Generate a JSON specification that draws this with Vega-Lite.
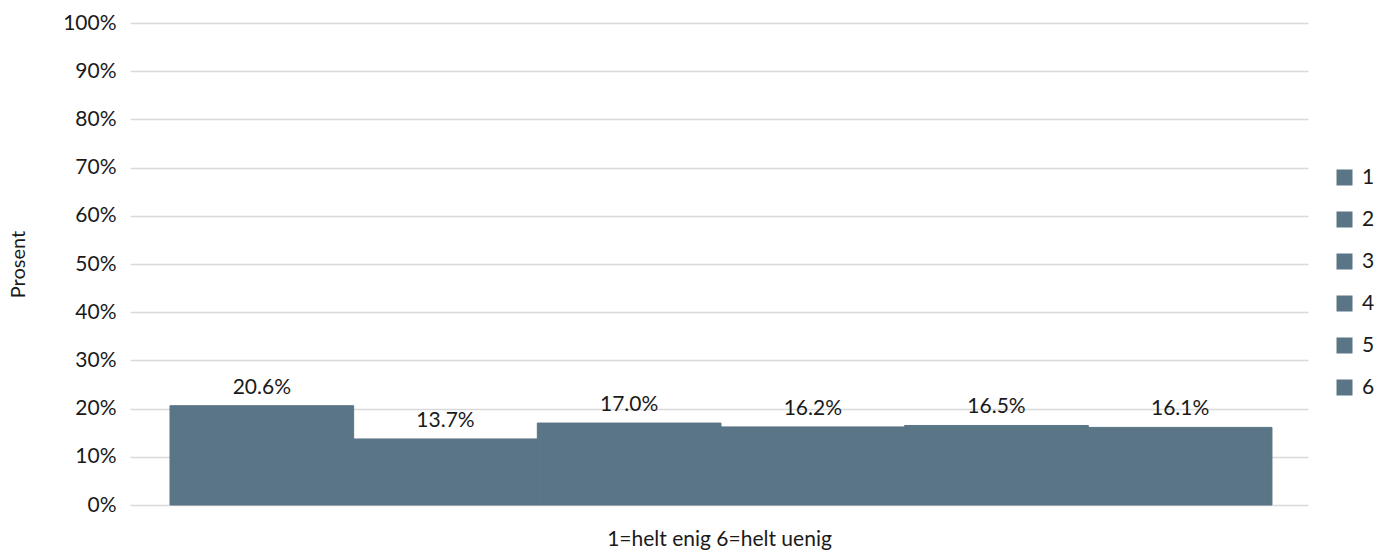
{
  "$schema": "https://vega.github.io/schema/vega-lite/v6.json",
  "width": 1178,
  "height": 482,
  "autosize": {"type": "none"},
  "padding": {"left": 130, "top": 23, "right": 69, "bottom": 47},
  "background": "white",
  "config": {
    "font": "Lato",
    "view": {"stroke": null},
    "axis": {"labelFont": "Lato", "titleFont": "Lato"}
  },
  "data": {
    "values": [
      {"kategori": "1", "andel": 0.206},
      {"kategori": "2", "andel": 0.137},
      {"kategori": "3", "andel": 0.170},
      {"kategori": "4", "andel": 0.162},
      {"kategori": "5", "andel": 0.165},
      {"kategori": "6", "andel": 0.161}
    ]
  },
  "encoding": {
    "x": {
      "field": "kategori",
      "type": "nominal",
      "sort": null,
      "scale": {"paddingInner": 0, "paddingOuter": 0.207, "align": 0.526},
      "axis": {
        "title": "1=helt enig 6=helt uenig",
        "labels": false,
        "ticks": false,
        "domain": false,
        "titleFontSize": 21,
        "titleFontWeight": "normal",
        "titleColor": "#1a1a1a",
        "titlePadding": 23
      }
    },
    "y": {
      "field": "andel",
      "type": "quantitative",
      "scale": {"domain": [0, 1]},
      "axis": {
        "title": "Prosent",
        "format": ".0%",
        "values": [0, 0.1, 0.2, 0.3, 0.4, 0.5, 0.6, 0.7, 0.8, 0.9, 1],
        "labelOverlap": false,
        "ticks": false,
        "domain": false,
        "grid": true,
        "gridColor": "#d9d9d9",
        "gridWidth": 1.5,
        "labelFontSize": 21,
        "labelColor": "#1a1a1a",
        "labelPadding": 14,
        "titleFontSize": 20,
        "titleFontWeight": "normal",
        "titleColor": "#1a1a1a",
        "titleX": -112,
        "titleY": 241,
        "titleAngle": -90,
        "titleBaseline": "middle"
      }
    }
  },
  "layer": [
    {
      "mark": {"type": "bar", "stroke": "#5a7586", "strokeWidth": 1},
      "encoding": {
        "color": {
          "field": "kategori",
          "type": "nominal",
          "sort": null,
          "scale": {"range": ["#5a7586", "#5a7586", "#5a7586", "#5a7586", "#5a7586", "#5a7586"]},
          "legend": {
            "title": null,
            "orient": "none",
            "legendX": 1204,
            "legendY": 144,
            "symbolType": "square",
            "symbolSize": 256,
            "symbolStrokeWidth": 0,
            "labelFontSize": 21,
            "labelColor": "#1a1a1a",
            "labelOffset": 7,
            "rowPadding": 20
          }
        }
      }
    },
    {
      "mark": {"type": "text", "dy": -12, "fontSize": 21, "color": "#1a1a1a", "baseline": "alphabetic"},
      "encoding": {
        "text": {"field": "andel", "type": "quantitative", "format": ".1%"}
      }
    }
  ]
}
